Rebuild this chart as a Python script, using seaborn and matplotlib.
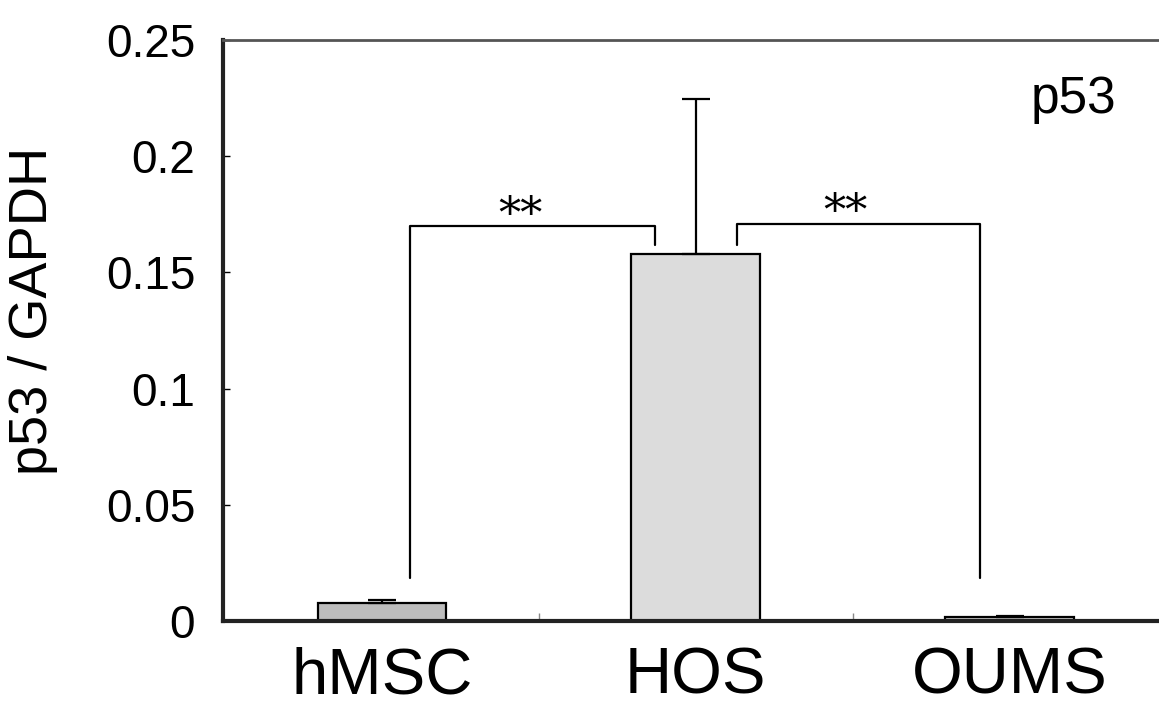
import matplotlib
matplotlib.use('Agg')
import matplotlib.pyplot as plt
import seaborn as sns

# values
groups = ['hMSC', 'HOS', 'OUMS']
means = [0.0077, 0.158, 0.0017]
errs = [0.0012, 0.0665, 0.0003]
colors = ['#bdbdbd', '#dcdcdc', '#c8c8c8']

# significance brackets: (x left, x right, y top, left leg bottom, right leg bottom)
brackets = [(0.09, 0.87, 0.170, 0.0185, 0.162),
            (1.13, 1.905, 0.1708, 0.162, 0.0185)]
star_pos = [(0.44, 0.174), (1.475, 0.1755)]

sns.set_style('white')
plt.rcParams['font.family'] = ['Liberation Sans', 'DejaVu Sans']
plt.rcParams['text.color'] = 'black'
plt.rcParams['axes.labelcolor'] = 'black'
plt.rcParams['xtick.color'] = 'black'
plt.rcParams['ytick.color'] = 'black'

fig = plt.figure(figsize=(11.59, 7.07), dpi=100)
ax = fig.add_axes([0.1924, 0.1216, 0.8076, 0.8218])

sns.barplot(x=groups, y=means, hue=groups, palette=colors, legend=False,
            width=0.41, edgecolor='black', linewidth=1.6, ax=ax)
ax.errorbar(range(len(groups)), means, yerr=[[0] * len(errs), errs],
            fmt='none', ecolor='black', elinewidth=1.6, capsize=10, capthick=1.6)

for x0, x1, yt, yl, yr in brackets:
    ax.plot([x0, x0, x1, x1], [yl, yt, yt, yr], color='black', lw=1.6)
for sx, sy in star_pos:
    ax.text(sx, sy, '**', ha='center', va='center', fontsize=32,
            family='DejaVu Serif')

ax.text(2.204, 0.2246, 'p53', ha='center', va='center', fontsize=37)

ax.set_xlim(-0.506, 2.475)
ax.set_ylim(0, 0.25)
ax.set_yticks([0, 0.05, 0.1, 0.15, 0.2, 0.25])
ax.set_yticklabels(['0', '0.05', '0.1', '0.15', '0.2', '0.25'])
ax.set_xticks([0.5, 1.5], minor=True)
ax.tick_params(axis='y', direction='in', length=5, width=1, pad=20,
               labelsize=33, left=True)
ax.tick_params(axis='x', which='major', length=0, pad=18, labelsize=47)
ax.tick_params(axis='x', which='minor', direction='in', length=6, width=1,
               bottom=True, color='#888888')
ax.set_xlabel('')
ax.set_ylabel('p53 / GAPDH', fontsize=39)
ax.yaxis.set_label_coords(-0.203, 0.534)
ax.yaxis.label.set_va('center')

for side in ['left', 'bottom']:
    ax.spines[side].set_linewidth(3)
    ax.spines[side].set_color('#222222')
ax.spines['top'].set_linewidth(2)
ax.spines['top'].set_color('#555555')
ax.spines['right'].set_visible(False)

fig.savefig('out.png', dpi=100)
